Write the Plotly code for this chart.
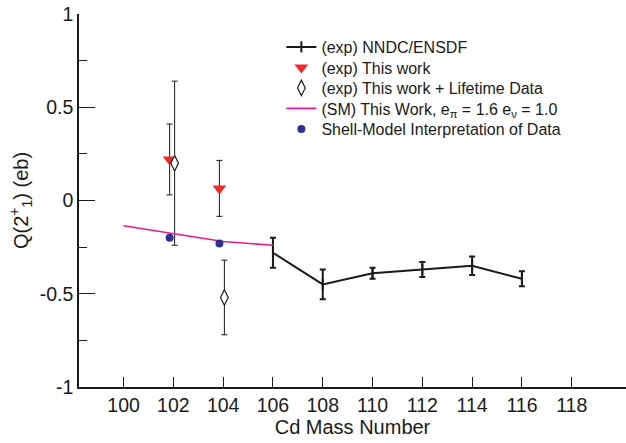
import plotly.graph_objects as go

# NNDC/ENSDF experimental values
nndc_A = [106, 108, 110, 112, 114, 116]
nndc_Q = [-0.28, -0.45, -0.39, -0.37, -0.35, -0.42]
nndc_err = [0.08, 0.08, 0.03, 0.04, 0.05, 0.04]

# This work (Coulomb excitation)
tw_A = [101.85, 103.85]
tw_Q = [0.22, 0.065]
tw_err = [0.19, 0.15]

# This work + lifetime data
lt_A = [102.05, 104.05]
lt_Q = [0.20, -0.52]
lt_err = [0.44, 0.20]

# Shell model line
sm_A = [100, 102, 104, 106]
sm_Q = [-0.135, -0.178, -0.22, -0.24]

# Shell-model interpretation points
smi_A = [101.85, 103.85]
smi_Q = [-0.20, -0.23]

x_ticks = [100, 102, 104, 106, 108, 110, 112, 114, 116, 118]
y_ticks = [-1, -0.5, 0, 0.5, 1]
y_ticklabels = ["-1", "-0.5", "0", "0.5", "1"]

FONT = "Liberation Sans, Arial, Helvetica, sans-serif"
INK = "#1a1a1a"

fig = go.Figure()

fig.add_trace(go.Scatter(
    x=nndc_A, y=nndc_Q, mode="lines+markers",
    line=dict(color=INK, width=2),
    marker=dict(symbol="line-ns", size=8, color=INK, line=dict(width=2, color=INK)),
    error_y=dict(type="data", array=nndc_err, color=INK, thickness=2, width=3),
    name="(exp) NNDC/ENSDF", legend="legend"))

fig.add_trace(go.Scatter(
    x=tw_A, y=tw_Q, mode="markers",
    marker=dict(symbol="triangle-down", size=12, color="#ee2a2a", line=dict(width=0)),
    error_y=dict(type="data", array=tw_err, color=INK, thickness=1, width=3),
    name="(exp) This work", legend="legend2"))

fig.add_trace(go.Scatter(
    x=lt_A, y=lt_Q, mode="markers",
    marker=dict(symbol="diamond-tall", size=11, color="white", line=dict(width=1.2, color=INK)),
    error_y=dict(type="data", array=lt_err, color=INK, thickness=1, width=3),
    name="(exp) This work + Lifetime Data", legend="legend3"))

fig.add_trace(go.Scatter(
    x=sm_A, y=sm_Q, mode="lines",
    line=dict(color="#e8198b", width=1.6),
    name="(SM) This Work, e<sub>π</sub> = 1.6 e<sub>ν</sub> = 1.0", legend="legend4"))

fig.add_trace(go.Scatter(
    x=smi_A, y=smi_Q, mode="markers",
    marker=dict(symbol="circle", size=8, color="#2e3192"),
    name="Shell-Model Interpretation of Data", legend="legend5"))

legend_rows = [0.9115, 0.8566, 0.8016, 0.7466, 0.6917]


def leg(yv):
    return dict(x=0.37, y=yv, xanchor="left", yanchor="middle",
                font=dict(size=16, family=FONT, color=INK), bgcolor="rgba(0,0,0,0)",
                itemwidth=30)


fig.update_layout(
    width=626, height=443,
    margin=dict(l=79, r=0, t=14, b=56),
    paper_bgcolor="white", plot_bgcolor="white",
    font=dict(family=FONT, color=INK),
    showlegend=True,
    legend=leg(legend_rows[0]),
    legend2=leg(legend_rows[1]),
    legend3=leg(legend_rows[2]),
    legend4=leg(legend_rows[3]),
    legend5=leg(legend_rows[4]),
)

fig.update_xaxes(
    range=[98.21, 120.18], tickvals=x_ticks,
    showline=True, linecolor=INK, linewidth=1.5,
    ticks="inside", ticklen=10, tickwidth=1, tickcolor=INK,
    showgrid=False, zeroline=False, mirror=False,
    tickfont=dict(size=19.5), title=dict(text="Cd Mass Number", font=dict(size=20), standoff=4),
)
fig.update_yaxes(
    range=[-1, 1], tickvals=y_ticks, ticktext=y_ticklabels,
    showline=True, linecolor=INK, linewidth=1.5,
    ticks="inside", ticklen=16, tickwidth=1, tickcolor=INK,
    minor=dict(dtick=0.25, ticklen=8, tickcolor=INK, ticks="inside"),
    showgrid=False, zeroline=False, mirror=False,
    tickfont=dict(size=19.5),
    title=dict(text="Q(2<sup>+</sup><sub>1</sub>) (eb)", font=dict(size=20), standoff=6),
)

fig.write_html("out.html")
